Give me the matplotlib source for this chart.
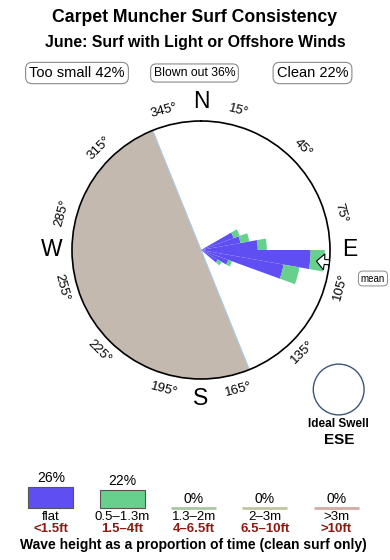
import numpy as np
import matplotlib

matplotlib.use("Agg")
import matplotlib.pyplot as plt
from matplotlib.patches import Circle

plt.rcParams["font.family"] = ["Liberation Sans", "DejaVu Sans"]

# --- data -----------------------------------------------------------------
TITLE = "Carpet Muncher Surf Consistency"
SUBTITLE = "June: Surf with Light or Offshore Winds"

SUMMARY_LABELS = ["Too small", "Blown out", "Clean"]
SUMMARY_PCT = [42, 36, 22]

# rose bins (start bearing, 10 degree wide), length in % of time
BIN_START = [60, 70, 80, 90, 100, 110, 120]
FLAT_LEN = [2.7, 3.1, 4.4, 8.5, 6.5, 2.25, 1.5]
SMALL_LEN = [0.5, 0.7, 0.7, 1.1, 1.25, 0.3, 0.35]
RMAX = 10.0

# offshore-wind sector (shaded), bearing range
BLOWN_FROM = 158
BLOWN_TO = 338

MEAN_DIR = 95.5
IDEAL_SWELL = "ESE"

TICK_DEG = [15, 45, 75, 105, 135, 165, 195, 225, 255, 285, 315, 345]
COMPASS = [("N", 0), ("E", 90), ("S", 180), ("W", 270)]

SIZE_PCT = [26, 22, 0, 0, 0]
SIZE_M = ["flat", "0.5\u20131.3m", "1.3\u20132m", "2\u20133m", ">3m"]
SIZE_FT = ["<1.5ft", "1.5\u20134ft", "4\u20136.5ft", "6.5\u201310ft", ">10ft"]
SIZE_COLORS = ["#5f4ff2", "#66d08c", "#a9c8a2", "#c2c5a2", "#d3aba5"]

PURPLE = SIZE_COLORS[0]
GREEN = SIZE_COLORS[1]
SHADE = "#c4b9ae"
DARK_RED = "#8a1a12"

fig = plt.figure(figsize=(3.9, 5.6), dpi=100)

# overlay in pixel coordinates for text and decorations
ov = fig.add_axes([0, 0, 1, 1])
ov.set_xlim(0, 390)
ov.set_ylim(560, 0)
ov.axis("off")

ov.text(195, 18, TITLE, ha="center", va="center", fontsize=12.7, fontweight="bold")
ov.text(195, 42, SUBTITLE, ha="center", va="center", fontsize=11.4, fontweight="bold")

box = dict(boxstyle="round,pad=0.25,rounding_size=0.45", fc="white", ec="#8a8a8a", lw=0.8)
for (label, pct), x, fs in zip(zip(SUMMARY_LABELS, SUMMARY_PCT), [77, 194.5, 312.5], [10.5, 8.8, 10.5]):
    ov.text(x, 73, f"{label} {pct}%", ha="center", va="center", fontsize=fs, bbox=box)

ov.text(373, 278.5, "mean", ha="center", va="center", fontsize=7,
        bbox=dict(boxstyle="round,pad=0.25,rounding_size=0.45", fc="white", ec="#8a8a8a", lw=0.7))

ov.add_patch(Circle((338.7, 389.5), 25.4, fill=False, ec="#3d5577", lw=1.0))
ov.text(338.7, 424, "Ideal Swell", ha="center", va="center", fontsize=8.5, fontweight="bold")
ov.text(338.7, 440, IDEAL_SWELL, ha="center", va="center", fontsize=11, fontweight="bold")

# --- rose ---------------------------------------------------------------
ax = fig.add_axes([72 / 390, 181 / 560, 258 / 390, 258 / 560], projection="polar")
ax.set_theta_zero_location("N")
ax.set_theta_direction(-1)
ax.set_ylim(0, RMAX)
ax.set_yticks([])
ax.grid(False)
ax.set_facecolor("white")
ax.spines["polar"].set_linewidth(1.2)

theta_sector = np.radians(np.linspace(BLOWN_FROM, BLOWN_TO, 200))
ax.fill_between(theta_sector, 0, RMAX, color=SHADE, lw=0, zorder=1)
ax.plot(np.radians([BLOWN_TO, BLOWN_TO, BLOWN_FROM, BLOWN_FROM]), [RMAX, 0, 0, RMAX],
        color="#a9cbe8", lw=0.8, zorder=1.5)

centers = np.radians(np.array(BIN_START) + 5)
width = np.radians(10)
ax.bar(centers, FLAT_LEN, width=width, bottom=0, color=PURPLE, lw=0, zorder=2)
ax.bar(centers, SMALL_LEN, width=width, bottom=FLAT_LEN, color=GREEN, lw=0, zorder=2)

# mean direction marker
px = RMAX / 129.0
shape = [(0, -2.5), (5, -2.5), (5, -8), (13, 0), (5, 8), (5, 2.5), (0, 2.5)]
r_pts = [RMAX - d * px for d, w in shape]
t_pts = [np.radians(MEAN_DIR) + w / (129.0 - d) for d, w in shape]
ax.fill(t_pts, r_pts, fc="white", ec="black", lw=0.8, zorder=3, clip_on=False)

ax.set_xticks(np.radians(TICK_DEG))
ax.set_xticklabels([f"{d}\u00b0" for d in TICK_DEG])
ax.tick_params(axis="x", direction="out", length=4, width=0.8, pad=0, labelsize=9.5,
               labelrotation="auto")

for letter, deg in COMPASS:
    ax.text(np.radians(deg), RMAX * 1.155, letter, ha="center", va="center",
            fontsize=16.5, clip_on=False)

# --- wave size legend ---------------------------------------------------
lg = fig.add_axes([0, 0, 1, 100 / 560])
scale = 0.8  # px per percent
lg.set_xlim(-51 / 71.3, (390 - 51) / 71.3)
lg.set_ylim(-52.3 / scale, 47.7 / scale)
lg.axis("off")
bw = 45 / 71.3
for i, pct in enumerate(SIZE_PCT):
    if pct > 0:
        lg.bar(i, pct, width=bw, bottom=0, color=SIZE_COLORS[i], ec="#555555", lw=0.8)
    else:
        lg.hlines(0, i - bw / 2, i + bw / 2, color=SIZE_COLORS[i], lw=2)
    lg.text(i, pct + 11.25, f"{pct}%", ha="center", va="center", fontsize=10)
    lg.text(i, -11.25, SIZE_M[i], ha="center", va="center", fontsize=9.5)
    lg.text(i, -27, SIZE_FT[i], ha="center", va="center", fontsize=9.5,
            fontweight="bold", color=DARK_RED)
lg.text(2, -46.6, "Wave height as a proportion of time (clean surf only)",
        ha="center", va="center", fontsize=10, fontweight="bold")

fig.savefig("out.png", dpi=100)
